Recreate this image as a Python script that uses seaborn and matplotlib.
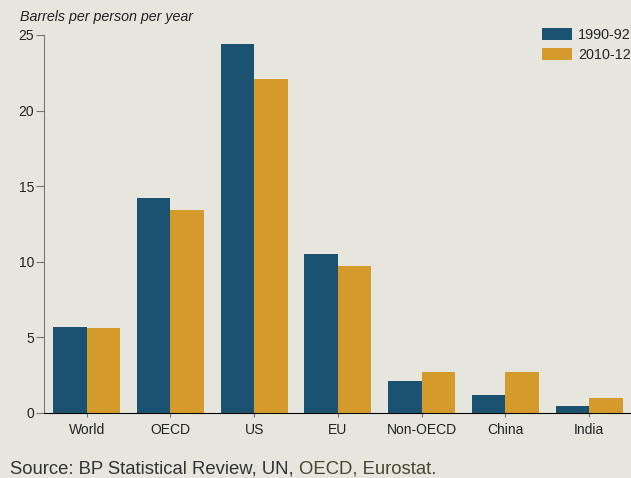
import pandas as pd
import matplotlib.pyplot as plt
import seaborn as sns

# Dados (barris por pessoa por ano)
regioes = ['World', 'OECD', 'US', 'EU', 'Non-OECD', 'China', 'India']
valores_1990 = [5.7, 14.2, 24.4, 10.5, 2.1, 1.2, 0.45]
valores_2010 = [5.6, 13.4, 22.1, 9.7, 2.7, 2.7, 1.0]
periodos = ['1990-92', '2010-12']

fundo = '#e6e6df'
cores = ['#1b5271', '#d49b2c']

sns.set_style("ticks")
plt.rcParams['font.family'] = ['Liberation Sans', 'DejaVu Sans']

df = pd.DataFrame({
    'regiao': regioes * 2,
    'valor': valores_1990 + valores_2010,
    'periodo': [periodos[0]] * len(regioes) + [periodos[1]] * len(regioes),
})

fig = plt.figure(figsize=(6.31, 4.78), dpi=100, facecolor=fundo)
ax = fig.add_axes([44 / 631, 65 / 478, 1 - 44 / 631, 378 / 478])
ax.set_facecolor(fundo)

sns.barplot(data=df, x='regiao', y='valor', hue='periodo', palette=cores,
            saturation=1, width=0.8, linewidth=0, ax=ax)

ax.set_xlim(-0.51, 6.5)
ax.set_ylim(0, 25)
ax.set_yticks([0, 5, 10, 15, 20, 25])
ax.set_xlabel('')
ax.set_ylabel('')

sns.despine(ax=ax)
ax.spines['left'].set_color('#777777')
ax.spines['bottom'].set_color('black')
ax.tick_params(axis='y', length=6, color='#777777', labelsize=10, labelcolor='#222222', pad=1)
ax.tick_params(axis='x', length=3, color='#777777', labelsize=10, labelcolor='#222222', pad=4)

ax.legend(loc='upper right', bbox_to_anchor=(1.01, 1.035), frameon=False, fontsize=10.4,
          handlelength=2.1, handleheight=0.9, handletextpad=0.45, labelspacing=0.45,
          borderaxespad=0.0)

fig.text(20 / 631, 1 - 17 / 478, 'Barrels per person per year', fontsize=10.3,
         style='italic', color='#222222', va='center', ha='left')

t1 = fig.text(10 / 631, 1 - 469 / 478, 'Source: BP Statistical Review, UN, ', fontsize=13.3,
              color='#333333', va='center', ha='left')
fig.canvas.draw()
bb = t1.get_window_extent()
fig.text(bb.x1 / fig.bbox.width, 1 - 469 / 478, 'OECD, Eurostat.', fontsize=13.3,
         color='#4a4530', va='center', ha='left')

fig.savefig('out.png', dpi=100, facecolor=fundo)
